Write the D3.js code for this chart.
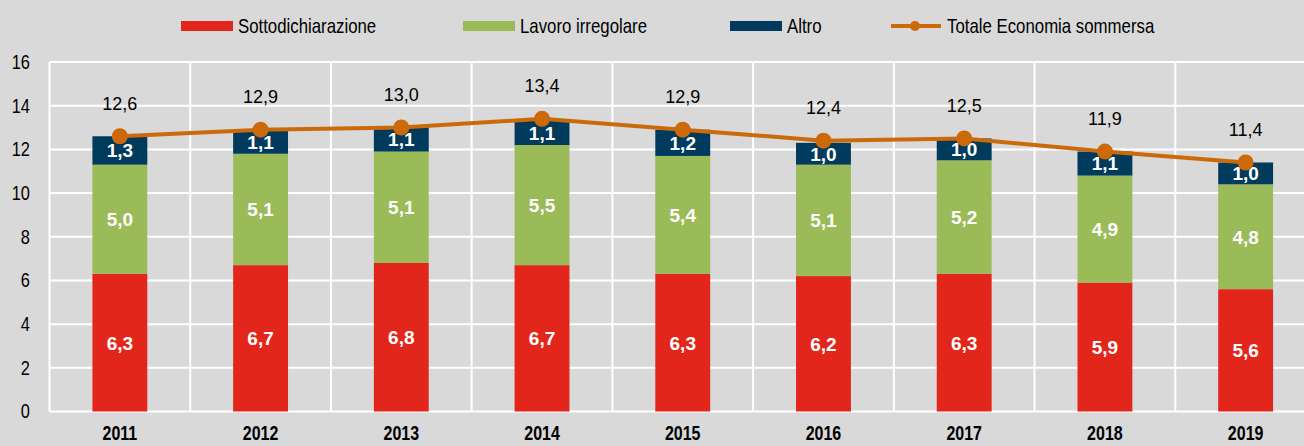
<!DOCTYPE html>
<html>
<head>
<meta charset="utf-8">
<script src="https://cdn.jsdelivr.net/npm/d3@7"></script>
<style>
  body { margin: 0; background: #d9d9d9; }
  svg { display: block; font-family: "Liberation Sans", Arial, sans-serif; }
  .narrow { font-family: "Liberation Sans Narrow", "Arial Narrow", "Liberation Sans", Arial, sans-serif; }
</style>
</head>
<body>
<svg id="chart" width="1304" height="446"></svg>
<script>
const years = ["2011", "2012", "2013", "2014", "2015", "2016", "2017", "2018", "2019"];
const sottodichiarazione = [6.3, 6.7, 6.8, 6.7, 6.3, 6.2, 6.3, 5.9, 5.6];
const lavoroIrregolare = [5.0, 5.1, 5.1, 5.5, 5.4, 5.1, 5.2, 4.9, 4.8];
const altro = [1.3, 1.1, 1.1, 1.1, 1.2, 1.0, 1.0, 1.1, 1.0];
const totale = [12.6, 12.9, 13.0, 13.4, 12.9, 12.4, 12.5, 11.9, 11.4];
const yTicks = [0, 2, 4, 6, 8, 10, 12, 14, 16];

const colors = { sotto: "#e3261b", lavoro: "#9bbb59", altro: "#003a5c", totale: "#cc6a0a" };

const svg = d3.select("#chart");
const width = +svg.attr("width");
const height = +svg.attr("height");
const margin = { top: 62, right: -12, bottom: 34.5, left: 49.5 };

// comma decimal, like the original
const fmt = v => d3.format(".1f")(v).replace(".", ",");

// narrow font may be missing: squeeze regular glyphs instead
const probe = svg.append("text").attr("class", "narrow").attr("font-size", 20).text("Sottodichiarazione");
const probeReg = svg.append("text").attr("font-size", 20).text("Sottodichiarazione");
const hasNarrow = probe.node().getComputedTextLength() < probeReg.node().getComputedTextLength() * 0.9;
probe.remove(); probeReg.remove();
const squeeze = hasNarrow ? 1 : 0.82;

function narrowText(sel) {
    sel.attr("class", "narrow");
    if (squeeze !== 1) {
        sel.attr("transform", function () {
            const xx = +d3.select(this).attr("x");
            return `translate(${xx},0) scale(${squeeze},1) translate(${-xx},0)`;
        });
    }
    return sel;
}

const x = d3.scaleBand()
    .domain(years)
    .range([margin.left, width - margin.right])
    .paddingInner(0)
    .paddingOuter(0);

const y = d3.scaleLinear()
    .domain([0, 16])
    .range([height - margin.bottom, margin.top]);

const barW = x.bandwidth() * 0.39;

// gridlines
const grid = svg.append("g");
grid.selectAll(".hgrid")
    .data(yTicks)
    .join("line")
    .attr("x1", margin.left).attr("x2", width)
    .attr("y1", d => y(d)).attr("y2", d => y(d))
    .attr("stroke", "#ffffff").attr("stroke-width", 2);
grid.selectAll(".vgrid")
    .data(years.concat(["end"]))
    .join("line")
    .attr("x1", (d, i) => margin.left + i * x.step())
    .attr("x2", (d, i) => margin.left + i * x.step())
    .attr("y1", y(16)).attr("y2", y(0))
    .attr("stroke", "#ffffff").attr("stroke-width", 2);

// y axis labels
svg.append("g")
    .selectAll("text")
    .data(yTicks)
    .join("text")
    .attr("x", 30)
    .attr("y", d => y(d))
    .attr("dy", "0.35em")
    .attr("text-anchor", "end")
    .attr("font-size", 20)
    .attr("fill", "#000")
    .text(d => d)
    .call(narrowText);

// x axis labels
svg.append("g")
    .selectAll("text")
    .data(years)
    .join("text")
    .attr("x", d => x(d) + x.bandwidth() / 2)
    .attr("y", 440.5)
    .attr("text-anchor", "middle")
    .attr("font-size", 19.5)
    .attr("font-weight", "bold")
    .attr("fill", "#000")
    .text(d => d)
    .call(narrowText);

// stacked bars
const rows = years.map((yr, i) => ({
    year: yr,
    sotto: sottodichiarazione[i],
    lavoro: lavoroIrregolare[i],
    altro: altro[i]
}));
const keys = ["sotto", "lavoro", "altro"];
const stacked = d3.stack().keys(keys)(rows);

const layers = svg.append("g")
    .selectAll("g")
    .data(stacked)
    .join("g")
    .attr("fill", d => colors[d.key]);

layers.selectAll("rect")
    .data(d => d)
    .join("rect")
    .attr("x", d => x(d.data.year) + x.bandwidth() / 2 - barW / 2)
    .attr("width", barW)
    .attr("y", d => y(d[1]))
    .attr("height", d => y(d[0]) - y(d[1]));

layers.selectAll("text")
    .data(d => d.map(s => ({ s, key: d.key })))
    .join("text")
    .attr("x", d => x(d.s.data.year) + x.bandwidth() / 2)
    .attr("y", d => y((d.s[0] + d.s[1]) / 2))
    .attr("dy", "0.36em")
    .attr("text-anchor", "middle")
    .attr("font-size", 19)
    .attr("font-weight", "bold")
    .attr("fill", "#ffffff")
    .text(d => fmt(d.s.data[d.key]));

// total line
const line = d3.line()
    .x((d, i) => x(years[i]) + x.bandwidth() / 2)
    .y(d => y(d));

svg.append("path")
    .datum(totale)
    .attr("fill", "none")
    .attr("stroke", colors.totale)
    .attr("stroke-width", 4)
    .attr("d", line);

svg.append("g")
    .selectAll("circle")
    .data(totale)
    .join("circle")
    .attr("cx", (d, i) => x(years[i]) + x.bandwidth() / 2)
    .attr("cy", d => y(d))
    .attr("r", 8)
    .attr("fill", colors.totale);

svg.append("g")
    .selectAll("text")
    .data(totale)
    .join("text")
    .attr("x", (d, i) => x(years[i]) + x.bandwidth() / 2)
    .attr("y", d => y(d) - 33)
    .attr("dy", "0.35em")
    .attr("font-size", 18)
    .attr("text-anchor", "middle")
    .attr("fill", "#000")
    .text(d => fmt(d));

// legend
const legendItems = [
    { label: "Sottodichiarazione", color: colors.sotto, x: 181, type: "bar" },
    { label: "Lavoro irregolare", color: colors.lavoro, x: 463, type: "bar" },
    { label: "Altro", color: colors.altro, x: 730, type: "bar" },
    { label: "Totale Economia sommersa", color: colors.totale, x: 891, type: "line" }
];
const legend = svg.append("g").attr("transform", "translate(0,26)");
legendItems.forEach(it => {
    const g = legend.append("g").attr("transform", `translate(${it.x},0)`);
    if (it.type === "bar") {
        g.append("rect").attr("x", 0).attr("y", -5).attr("width", 52).attr("height", 10).attr("fill", it.color);
    } else {
        g.append("line").attr("x1", 0).attr("x2", 50).attr("y1", 0).attr("y2", 0)
            .attr("stroke", it.color).attr("stroke-width", 4);
        g.append("circle").attr("cx", 24).attr("cy", 0).attr("r", 5).attr("fill", it.color);
    }
    g.append("text")
        .attr("x", it.type === "bar" ? 57 : 56)
        .attr("y", 0)
        .attr("dy", "0.35em")
        .attr("font-size", 20.5)
        .attr("fill", "#000")
        .text(it.label)
        .call(narrowText);
});
</script>
</body>
</html>
